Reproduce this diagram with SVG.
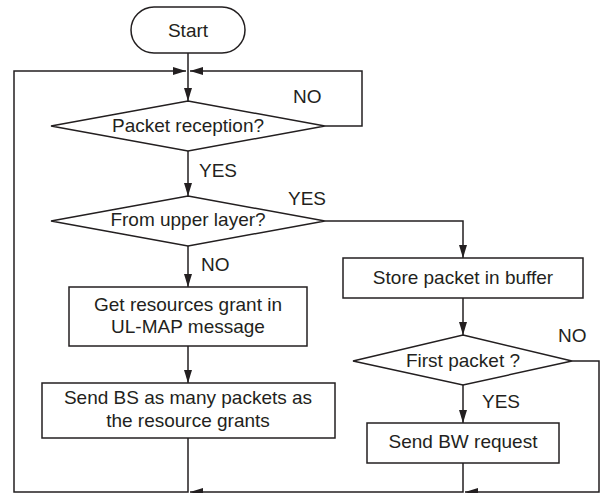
<svg xmlns="http://www.w3.org/2000/svg" width="603" height="493" viewBox="0 0 603 493">
  <defs>
    <marker id="arrow" markerUnits="userSpaceOnUse" markerWidth="13" markerHeight="8" refX="13" refY="4" orient="auto">
      <path d="M0,0 L13,4 L0,8 z" fill="#231f20"/>
    </marker>
    <style>
      .shape { fill: #ffffff; stroke: #231f20; stroke-width: 1.5; }
      .conn { fill: none; stroke: #231f20; stroke-width: 1.5; marker-end: url(#arrow); }
      .line { fill: none; stroke: #231f20; stroke-width: 1.5; }
      text { font-family: "Liberation Sans", Arial, sans-serif; font-size: 19px; fill: #231f20; }
      .c { text-anchor: middle; }
    </style>
  </defs>
  <rect width="603" height="493" fill="#ffffff"/>

  <!-- connectors -->
  <g id="connectors">
    <path class="conn" d="M188,53 V101"/>
    <path class="conn" d="M325,126 H362 V71 H190"/>
    <path class="conn" d="M188,438 V492 H14 V71 H186"/>
    <path class="conn" d="M188,151 V196"/>
    <path class="conn" d="M325,221 H463 V258"/>
    <path class="conn" d="M188,246 V287"/>
    <path class="conn" d="M188,346 V383"/>
    <path class="conn" d="M463,298 V335"/>
    <path class="conn" d="M463,385 V423"/>
    <path class="conn" d="M463,463 V492 H190"/>
    <path class="conn" d="M572,361 H599 V492 H465"/>
    <text x="293" y="103">NO</text>
    <text x="199" y="177">YES</text>
    <text x="288" y="205">YES</text>
    <text x="201" y="271">NO</text>
    <text x="558" y="342">NO</text>
    <text x="482" y="408">YES</text>
  </g>

  <g id="start">
    <rect class="shape" x="131" y="7" width="114" height="46" rx="23" ry="23"/>
    <text class="c" x="188" y="37">Start</text>
  </g>

  <g id="packet-reception">
    <polygon class="shape" points="188,101 325,126 188,151 51,126"/>
    <text class="c" x="188" y="132">Packet reception?</text>
  </g>

  <g id="from-upper-layer">
    <polygon class="shape" points="188,196 325,221 188,246 51,221"/>
    <text class="c" x="188" y="226">From upper layer?</text>
  </g>

  <g id="get-resources">
    <rect class="shape" x="69" y="287" width="238" height="59"/>
    <text class="c" x="188" y="311">Get resources grant in</text>
    <text class="c" x="188" y="333">UL-MAP message</text>
  </g>

  <g id="send-bs">
    <rect class="shape" x="42" y="383" width="293" height="55"/>
    <text class="c" x="188" y="404">Send BS as many packets as</text>
    <text class="c" x="188" y="427">the resource grants</text>
  </g>

  <g id="store-packet">
    <rect class="shape" x="343" y="258" width="240" height="40"/>
    <text class="c" x="463" y="284">Store packet in buffer</text>
  </g>

  <g id="first-packet">
    <polygon class="shape" points="463,335 572,361 463,385 353,361"/>
    <text class="c" x="463" y="367">First packet ?</text>
  </g>

  <g id="send-bw">
    <rect class="shape" x="367" y="423" width="192" height="40"/>
    <text class="c" x="463" y="448">Send BW request</text>
  </g>
</svg>
